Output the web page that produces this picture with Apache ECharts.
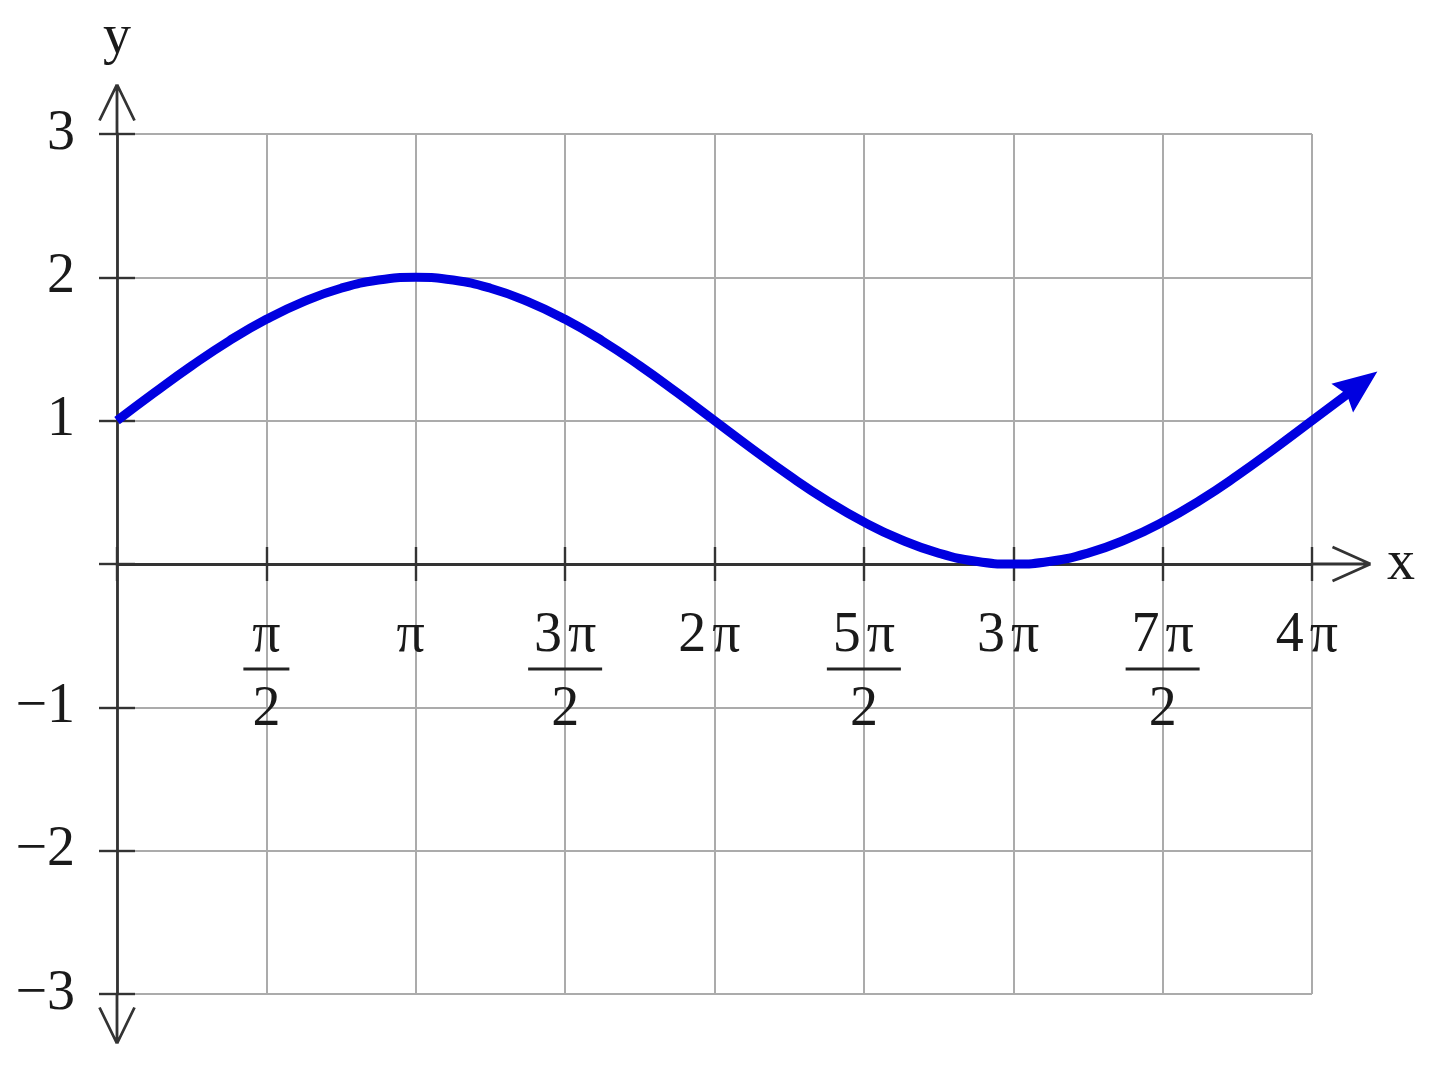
<!DOCTYPE html>
<html>
<head>
<meta charset="utf-8">
<script src="https://cdn.jsdelivr.net/npm/echarts@6/dist/echarts.min.js"></script>
<style>
html,body{margin:0;padding:0;background:#fff;}
#chart{width:1440px;height:1071px;}
</style>
</head>
<body>
<div id="chart"></div>
<script>
// ---- data (x in units of π) ----
const xTickNum = ['', 'π', 'π', '3π', '2π', '5π', '3π', '7π', '4π'];
const xTickDen = ['', '2', '', '2', '', '2', '', '2', ''];
const yTickLabels = ['−3', '−2', '−1', '', '1', '2', '3'];
const curveX = [0, 0.125, 0.25, 0.375, 0.5, 0.625, 0.75, 0.875, 1,
  1.125, 1.25, 1.375, 1.5, 1.625, 1.75, 1.875, 2,
  2.125, 2.25, 2.375, 2.5, 2.625, 2.75, 2.875, 3,
  3.125, 3.25, 3.375, 3.5, 3.625, 3.75, 3.875, 4, 4.16];
const curveY = [1.000, 1.195, 1.383, 1.556, 1.707, 1.831, 1.924, 1.981, 2.000,
  1.981, 1.924, 1.831, 1.707, 1.556, 1.383, 1.195, 1.000,
  0.805, 0.617, 0.444, 0.293, 0.169, 0.076, 0.019, 0.000,
  0.019, 0.076, 0.169, 0.293, 0.444, 0.617, 0.805, 1.000, 1.250];

// ---- layout / styling ----
const W = 1440, H = 1071;
const PLOT_L = 117, PLOT_R = 1312, PLOT_T = 134, PLOT_B = 994;
const X_MAX = 4, X_MAX_EXT = 4.25;
const FONT = 'Liberation Serif';
const TXT = '#1a1a1a';
const AXC = '#333333';
const GRIDC = '#ababab';
const BLUE = '#0000e0';
const zeroOffset = -(PLOT_B - PLOT_T) / 2;
const extRight = W - (PLOT_L + (PLOT_R - PLOT_L) * X_MAX_EXT / X_MAX);

function arrowPath(Hh, a, w, t) {
  const h = t / 2, cx = w + 2, Wd = 2 * cx, ty = 1.5;
  const len = Math.hypot(w, a);
  const nx = a / len * h, ny = w / len * h;
  const f = v => v.toFixed(3);
  const q = pts => 'M' + pts.map(p => f(p[0]) + ' ' + f(p[1])).join(' L') + ' Z ';
  let d = 'M0 0 L0 0 Z M' + Wd + ' ' + Hh + ' L' + Wd + ' ' + Hh + ' Z ';
  d += q([[cx + nx, ty + ny], [cx - w + nx, ty + a + ny], [cx - w - nx, ty + a - ny], [cx - nx, ty - ny]]);
  d += q([[cx + nx, ty - ny], [cx + w + nx, ty + a - ny], [cx + w - nx, ty + a + ny], [cx - nx, ty + ny]]);
  d += q([[cx - h, ty], [cx + h, ty], [cx + h, Hh], [cx - h, Hh]]);
  return { path: 'path://' + d, size: [Wd, Hh] };
}
const xArrow = arrowPath(60, 38, 17, 2.8);
const yArrow = arrowPath(51, 36, 17.5, 2.8);

const seriesData = curveX.map((x, i) => [x, curveY[i]]);
const last = seriesData.length - 1;
const lineData = seriesData.map((p, i) => i === last
  ? { value: p, symbol: 'path://M12 0 L24 30 L12 26 L0 30 Z', symbolSize: [36, 44], symbolRotate: -53 }
  : { value: p });

function xLabel(v) {
  const i = Math.round(v / 0.5);
  const num = xTickNum[i] || '';
  const den = xTickDen[i] || '';
  if (!num) return '';
  const coef = num.slice(0, -1);
  const pi = num.slice(-1);
  const frac = !!den;
  let line1 = coef ? '{n|' + coef + '}' : '';
  line1 += '{' + (coef ? 'piC' : 'pi') + (frac ? '' : 'R') + '|' + pi + '}';
  if (!frac) return line1;
  const bar = coef ? 'barL' : 'barS';
  return line1 + '\n{' + bar + '| }\n{den|' + den + '}';
}

const base = { fontFamily: FONT, fontSize: 56, lineHeight: 40, color: TXT };
const chart = echarts.init(document.getElementById('chart'), null, { renderer: 'canvas' });
const option = {
  backgroundColor: '#ffffff',
  animation: false,
  grid: [
    { left: PLOT_L, right: W - PLOT_R, top: PLOT_T, bottom: H - PLOT_B, containLabel: false, outerBoundsMode: 'none' },
    { left: PLOT_L, right: extRight, top: PLOT_T, bottom: H - PLOT_B, containLabel: false, outerBoundsMode: 'none' }
  ],
  xAxis: [{
    gridIndex: 0, type: 'value', min: 0, max: X_MAX, interval: 0.5, position: 'bottom', offset: zeroOffset,
    name: 'x', nameLocation: 'end', nameGap: 75,
    nameTextStyle: { fontFamily: FONT, fontSize: 56, color: TXT, verticalAlign: 'middle' },
    axisLine: { show: true, onZero: false, lineStyle: { color: AXC, width: 2.8 },
      symbol: ['none', xArrow.path], symbolSize: xArrow.size, symbolOffset: [0, xArrow.size[1] / 2] },
    axisTick: { show: true, length: 17, lineStyle: { color: AXC, width: 2.4 } },
    axisLabel: { show: true, margin: 52, formatter: xLabel, color: TXT, fontFamily: FONT, fontSize: 56,
      showMinLabel: true, showMaxLabel: true, hideOverlap: false,
      rich: {
        n: Object.assign({}, base),
        pi: Object.assign({}, base),
        piC: Object.assign({}, base, { padding: [0, 0, 0, 6] }),
        piR: Object.assign({}, base, { padding: [0, 10, 0, 0] }),
        piCR: Object.assign({}, base, { padding: [0, 10, 0, 6] }),
        barS: { width: 46, height: 3, lineHeight: 26, fontSize: 2, backgroundColor: '#222' },
        barL: { width: 74, height: 3, lineHeight: 26, fontSize: 2, backgroundColor: '#222' },
        den: { fontFamily: FONT, fontSize: 56, lineHeight: 56, color: TXT }
      } },
    splitLine: { show: true, lineStyle: { color: GRIDC, width: 2 } }
  }, {
    gridIndex: 0, type: 'value', min: 0, max: X_MAX, interval: 0.5, position: 'bottom', offset: zeroOffset,
    axisLine: { show: false, onZero: false },
    axisTick: { show: true, inside: true, length: 17, lineStyle: { color: AXC, width: 2.4 } },
    axisLabel: { show: false },
    splitLine: { show: false }
  }, {
    gridIndex: 1, type: 'value', min: 0, max: X_MAX_EXT, show: false
  }],
  yAxis: [{
    gridIndex: 0, type: 'value', min: -3, max: 3, interval: 1, position: 'left',
    name: 'y', nameLocation: 'end', nameGap: 68,
    nameTextStyle: { fontFamily: FONT, fontSize: 56, color: TXT, align: 'center' },
    axisLine: { show: true, onZero: false, lineStyle: { color: AXC, width: 2.8 },
      symbol: [yArrow.path, yArrow.path], symbolSize: yArrow.size,
      symbolOffset: [-yArrow.size[1] / 2, yArrow.size[1] / 2] },
    axisTick: { show: true, length: 18, lineStyle: { color: AXC, width: 2.4 } },
    axisLabel: { show: true, margin: 42, color: TXT, fontFamily: FONT, fontSize: 56,
      showMinLabel: true, showMaxLabel: true, hideOverlap: false,
      formatter: v => yTickLabels[Math.round(v) + 3] },
    splitLine: { show: true, lineStyle: { color: GRIDC, width: 2 } }
  }, {
    gridIndex: 0, type: 'value', min: -3, max: 3, interval: 1, position: 'left',
    axisLine: { show: false, onZero: false },
    axisTick: { show: true, inside: true, length: 18, lineStyle: { color: AXC, width: 2.4 } },
    axisLabel: { show: false },
    splitLine: { show: false }
  }, {
    gridIndex: 1, type: 'value', min: -3, max: 3, show: false
  }],
  series: [{
    type: 'line', xAxisIndex: 2, yAxisIndex: 2,
    data: lineData, smooth: true, clip: false,
    symbol: 'none', showSymbol: true,
    lineStyle: { color: BLUE, width: 9 },
    itemStyle: { color: BLUE },
    z: 5
  }]
};
chart.setOption(option);
</script>
</body>
</html>
